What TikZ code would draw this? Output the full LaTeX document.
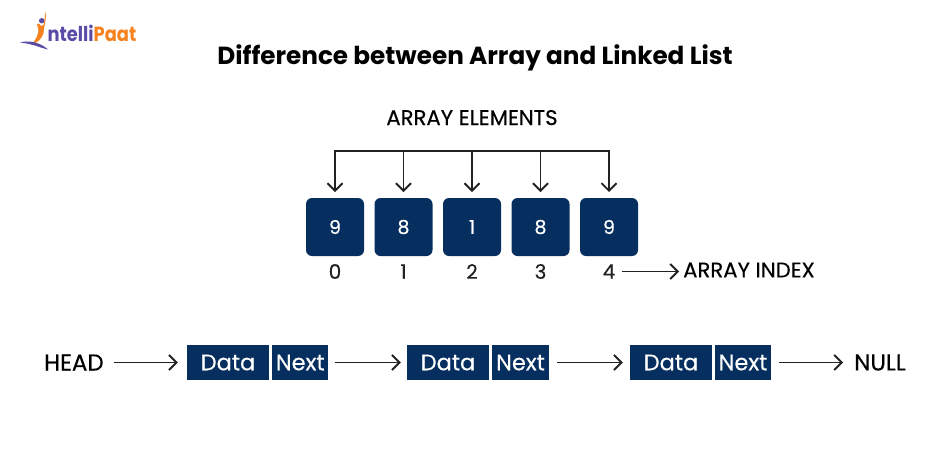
\documentclass[tikz,border=0pt]{standalone}
\usepackage{fontspec}
\setmainfont{Poppins}
\newfontfamily\medfont{Poppins}[FakeBold=0.35]
\usetikzlibrary{arrows.meta,positioning}
\definecolor{navy}{HTML}{062F5F}
\definecolor{ink}{HTML}{222222}
\definecolor{logopurple}{HTML}{5A4CA6}
\definecolor{logoorange}{HTML}{F5821F}
\tikzset{
  cell/.style={fill=navy,rounded corners=6pt,minimum width=58pt,minimum height=58pt,inner sep=0pt,text=white,font=\medfont\fontsize{19}{22}\selectfont},
  idx/.style={inner sep=0pt,text=ink,font=\medfont\fontsize{20}{24}\selectfont},
  lbl/.style={inner sep=0pt,text=black,font=\medfont\fontsize{21.2}{25}\selectfont},
  biglbl/.style={inner sep=0pt,text=black,font=\medfont\fontsize{23}{27}\selectfont},
  datacell/.style={fill=navy,minimum height=35pt,inner sep=0pt,text=white,font=\medfont\fontsize{22.5}{27}\selectfont},
  nextcell/.style={fill=navy,minimum height=35pt,inner sep=0pt,text=white,font=\medfont\fontsize{22.5}{27}\selectfont},
  conn/.style={draw=ink,line width=1.9pt,-{Straight Barb[length=7.5pt,width=15pt,line width=1.9pt]}},
  bar/.style={draw=ink,line width=1.9pt},
}
\begin{document}
\begin{tikzpicture}[x=1pt,y=-1pt]
\useasboundingbox (0,0) rectangle (950,451);
% logo
\fill[logoorange] (46,11) .. controls (46,17) and (45.5,23) .. (44,28) -- (43.5,33) .. controls (42,39) and (37,43) .. (31,45) .. controls (36,40) and (38,35) .. (38.5,30) -- (37,24) -- (39,23.5) -- (41,26) -- (43.5,25) .. controls (44.5,20) and (45,15) .. (46,11) -- cycle;
\fill[logopurple] (41.7,20.7) circle (2.7pt);
\fill[logopurple] (20,42.5) .. controls (28,40) and (40,42) .. (48,49.5) .. controls (39,47.5) and (34,44) .. (20,42.5) -- cycle;
\node[anchor=base west,inner sep=0pt,xscale=0.87,font=\fontsize{20.5}{24}\selectfont\bfseries] (logo) at (47.5,41) {\textcolor{logopurple}{ntelli}\textcolor{logoorange}{Paat}};
% title
\node[inner sep=0pt,anchor=base,text=black,font=\fontsize{24.7}{29}\selectfont\bfseries] (title) at (475,64) {Difference between Array and Linked List};
% array
\node[lbl,anchor=base] (elements) at (472,125) {ARRAY ELEMENTS};
\node[cell] (c0) at (335,227) {9};
\node[cell] (c1) at (403.5,227) {8};
\node[cell] (c2) at (472,227) {1};
\node[cell] (c3) at (540.5,227) {8};
\node[cell] (c4) at (609,227) {9};
\coordinate (t0) at (335,192);
\coordinate (t1) at (403.5,192);
\coordinate (t2) at (472,192);
\coordinate (t3) at (540.5,192);
\coordinate (t4) at (609,192);
\coordinate (b0) at (335,151);
\coordinate (b1) at (403.5,151);
\coordinate (b2) at (472,151);
\coordinate (b3) at (540.5,151);
\coordinate (b4) at (609,151);
\draw[bar,line cap=rect] (b0) -- (b4);
\foreach \i in {0,...,4} \draw[conn] (b\i) -- (t\i);
\node[idx] (i0) at (335,271.5) {0};
\node[idx] (i1) at (403.5,271.5) {1};
\node[idx] (i2) at (472,271.5) {2};
\node[idx] (i3) at (540.5,271.5) {3};
\node[idx] (i4) at (609,271.5) {4};
\node[lbl,anchor=west] (index) at (683,270) {ARRAY INDEX};
\coordinate (a1) at (622,271.5);
\coordinate (a2) at (679,271.5);
\draw[conn] (a1) -- (a2);
% list
\node[biglbl,anchor=west] (head) at (44,362.5) {HEAD};
\node[datacell,minimum width=82pt] (d1) at (228,362.5) {Data};
\node[nextcell,minimum width=56.5pt] (n1) at (300.2,362.5) {Next};
\node[datacell,minimum width=82pt] (d2) at (448,362.5) {Data};
\node[nextcell,minimum width=57pt] (n2) at (520.5,362.5) {Next};
\node[datacell,minimum width=82pt] (d3) at (671,362.5) {Data};
\node[nextcell,minimum width=56pt] (n3) at (743,362.5) {Next};
\node[biglbl,anchor=east] (null) at (906,362.5) {NULL};
\draw[conn] ([xshift=10pt]head.east) -- ([xshift=-9pt]d1.west);
\draw[conn] ([xshift=6pt]n1.east) -- ([xshift=-6pt]d2.west);
\draw[conn] ([xshift=8pt]n2.east) -- ([xshift=-7pt]d3.west);
\draw[conn] ([xshift=8pt]n3.east) -- ([xshift=-11pt]null.west);
\end{tikzpicture}
\end{document}
